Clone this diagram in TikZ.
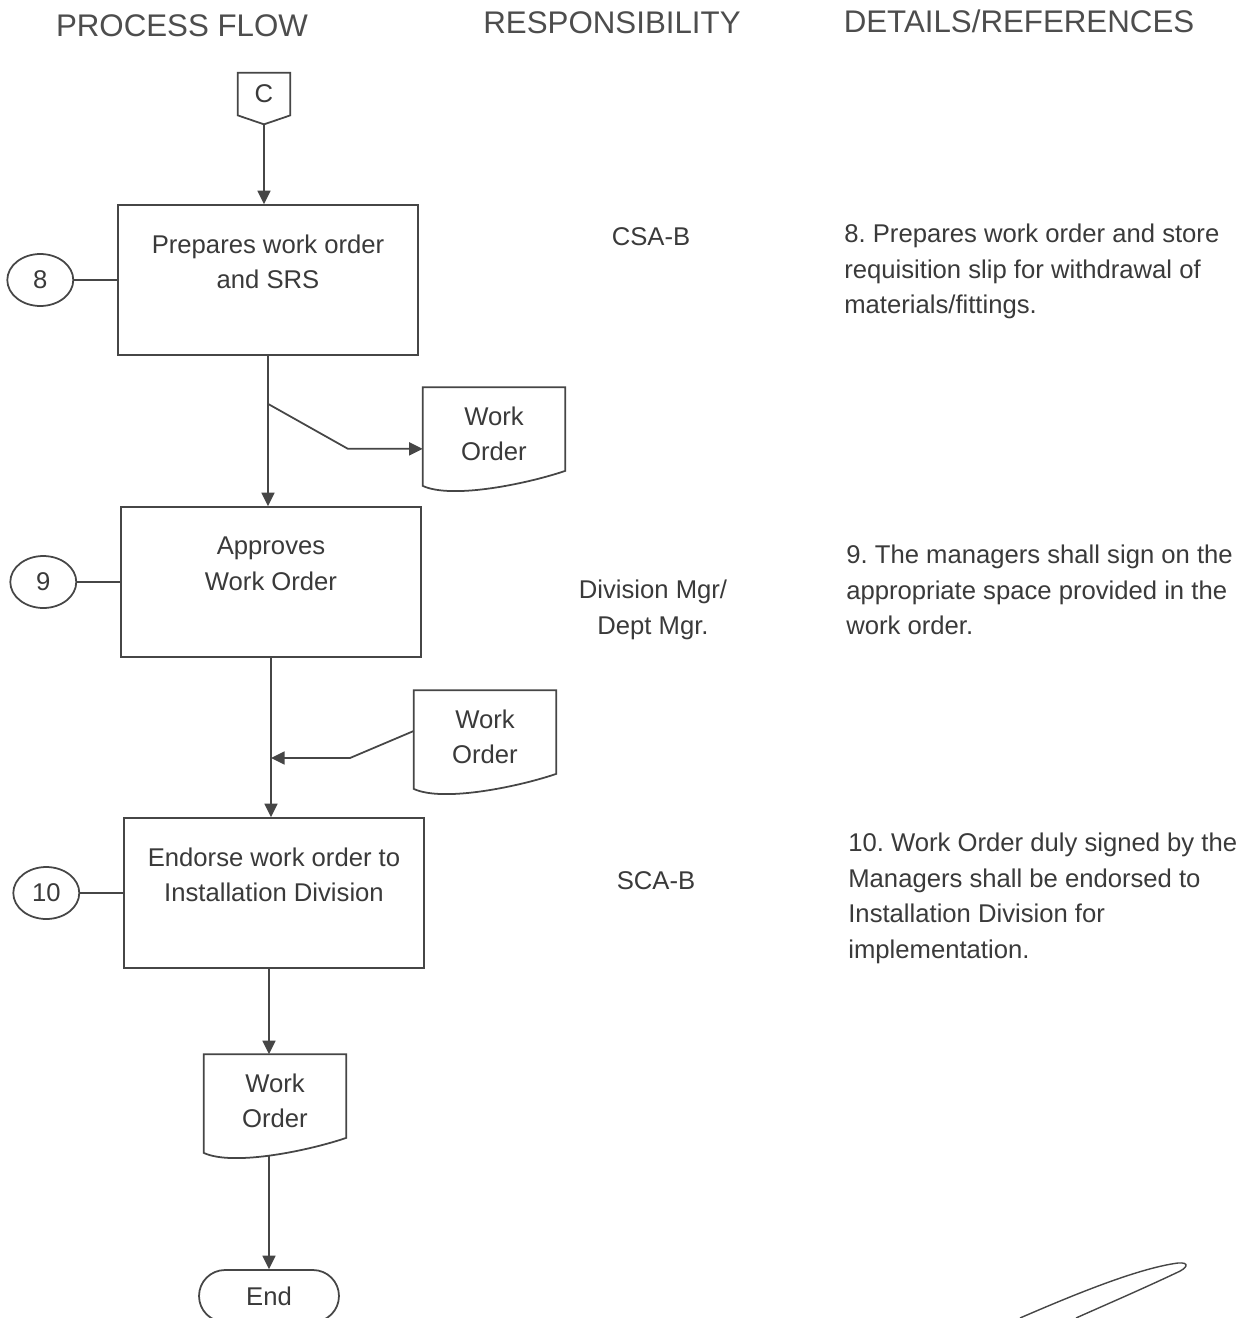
\documentclass[tikz,border=0pt]{standalone}
\usepackage{fontspec}
\setmainfont{Liberation Sans}
\usetikzlibrary{shapes.geometric, arrows.meta, positioning, calc}
\frenchspacing

\definecolor{ink}{HTML}{3A3A3A}
\definecolor{lineink}{HTML}{464646}
\definecolor{headink}{HTML}{4D4D4D}

\newcommand{\flowfont}{\fontsize{14.6}{20.2}\selectfont}
\newcommand{\colheadfont}{\fontsize{17.8}{20}\selectfont}

% outline of a document symbol round a named node
\newcommand{\docoutline}[1]{%
  \draw[flowline] (#1.north west) -- (#1.north east) -- ($(#1.south east)+(0,-10)$)
    .. controls +(-35,12) and +(30,14) .. ($(#1.south west)+(0,5)$) -- cycle;}

\begin{document}
\begin{tikzpicture}[
  x=0.02cm, y=-0.02cm,
  node distance=0.86cm,
  flowline/.style={draw=lineink, line width=1pt},
  procbox/.style={rectangle, flowline, minimum width=6cm, minimum height=3cm,
    align=center, text depth=0.74cm, font=\flowfont, text=ink},
  refnum/.style={ellipse, flowline, minimum width=1.32cm, minimum height=1.04cm,
    inner sep=0pt, font=\flowfont, text=ink},
  wodoc/.style={rectangle, minimum width=2.84cm, minimum height=1.86cm,
    align=center, font=\flowfont, text=ink},
  offpage/.style={rectangle, minimum width=1.04cm, minimum height=0.84cm,
    inner sep=0pt, font=\flowfont, text=ink},
  terminal/.style={rectangle, rounded corners=0.52cm, flowline,
    minimum width=2.8cm, minimum height=1.04cm, font=\flowfont, text=ink},
  header/.style={font=\colheadfont, text=headink},
  resp/.style={align=center, font=\flowfont, text=ink},
  detail/.style={align=left, anchor=north west, inner sep=0pt, font=\flowfont, text=ink},
  arrow/.style={flowline, -{Triangle[length=0.27cm, width=0.26cm]}}
]
\fill[white] (0,0) rectangle (1256,1318);
\useasboundingbox (0,0) rectangle (1256,1318);

% Column headers
\node[header] (H1) at (182,26) {PROCESS FLOW};
\node[header] (H2) at (612,23) {RESPONSIBILITY};
\node[header] (H3) at (1019,21) {DETAILS/REFERENCES};

% Off-page connector
\node[offpage] (C) at (264,94) {C};
\coordinate (Ctip) at ($(C.south)+(0,9)$);
\draw[flowline] (C.north west) -- (C.north east) -- (C.south east) -- (Ctip)
  -- (C.south west) -- cycle;

% Process steps
\node[procbox] (B8) at (268,280) {Prepares work order\\and SRS};
\node[procbox] (B9) at (271,582) {Approves\\Work Order};
\node[procbox] (B10) at (274,893) {Endorse work order to\\Installation Division};

% Step numbers
\node[refnum, left=of B8] (N8) {8};
\node[refnum, left=of B9] (N9) {9};
\node[refnum, left=of B10] (N10) {10};
\foreach \n in {8,9,10} {
  \draw[flowline] (N\n) -- (B\n);
}

% Work order documents
\node[wodoc] (D1) at (494,434) {Work\\Order};
\node[wodoc] (D2) at (485,737) {Work\\Order};
\node[wodoc] (D3) at (275,1101) {Work\\Order};
\foreach \d in {D1,D2,D3} {
  \docoutline{\d}
}

% Terminator
\node[terminal] (End) at (269,1296) {End};

% Main flow
\draw[arrow] (Ctip) -- (Ctip |- B8.north);
\foreach \i/\j in {B8/B9, B9/B10} {
  \draw[arrow] (\i.south) -- (\i.south |- \j.north);
}
\draw[arrow] (End.north |- B10.south) -- (End.north |- D3.north);
\draw[arrow] ($(End.north |- D3.south)+(0,7)$) -- (End);

% Document branches
\coordinate (tap1) at ($(B8.south)+(0,48)$);
\coordinate (bend1) at ($(tap1)+(80,45)$);
\draw[arrow] (tap1) -- (bend1) -- (bend1 -| D1.west);
\coordinate (bend2) at (350,758);
\draw[arrow] ($(D2.west)+(0,-6)$) -- (bend2) -- (bend2 -| B9.south);

% Responsibility column
\node[resp] (R8) at (651,237) {CSA-B};
\node[resp] (R9) at (653,610) {Division Mgr/\\Dept Mgr.};
\node[resp] (R10) at (656,881) {SCA-B};

% Details column
\node[detail] (T8) at (844,224) {8. Prepares work order and store\\requisition slip for withdrawal of\\materials/fittings.};
\node[detail] (T9) at (846,545) {9. The managers shall sign on the\\appropriate space provided in the\\work order.};
\node[detail] (T10) at (848,833) {10. Work Order duly signed by the\\Managers shall be endorsed to\\Installation Division for\\implementation.};

% Initials
\draw[lineink, line width=0.8pt] (1020,1318) .. controls (1080,1292) and (1140,1268) .. (1178,1263)
  .. controls (1190,1262) and (1188,1268) .. (1176,1273)
  .. controls (1140,1290) and (1105,1305) .. (1076,1318);

\end{tikzpicture}
\end{document}
